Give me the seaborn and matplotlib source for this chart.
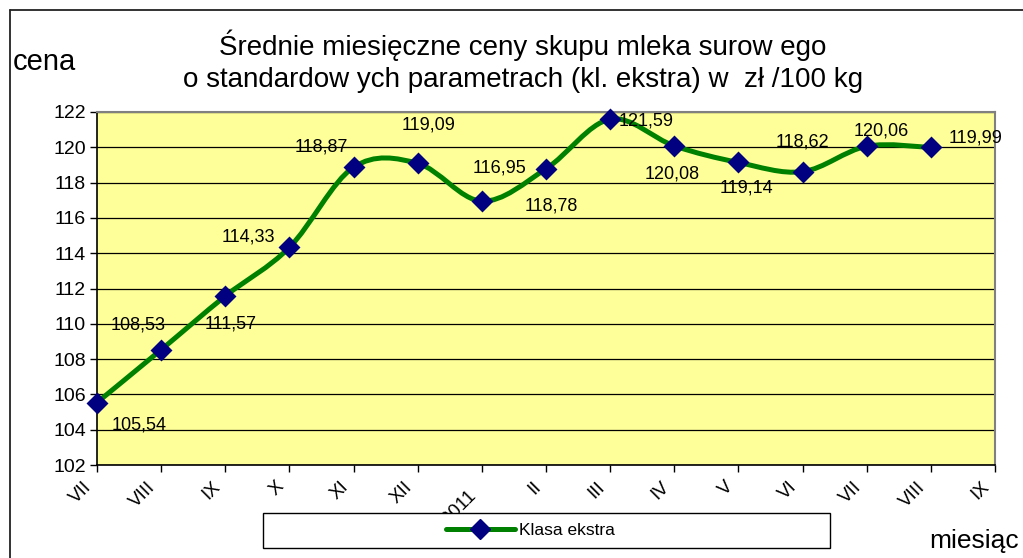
import numpy as np
import pandas as pd
import matplotlib.pyplot as plt
import matplotlib.transforms as mtransforms
from matplotlib.path import Path
from matplotlib.patches import PathPatch, Rectangle
from matplotlib.lines import Line2D
import seaborn as sns

# dane z wykresu
months = ["VII", "VIII", "IX", "X", "XI", "XII", "2011", "II", "III",
          "IV", "V", "VI", "VII", "VIII", "IX"]
prices = [105.54, 108.53, 111.57, 114.33, 118.87, 119.09, 116.95, 118.78,
          121.59, 120.08, 119.14, 118.62, 120.06, 119.99]
series_name = "Klasa ekstra"

# przesuniecia etykiet danych (piksele, jak w Excelu)
label_dx = [42, -23, 5, -41, -32, 11, 18, 5, 36, -2, 8, 0, 15, 45]
label_dy = [-22, 25, -28, 10, 20, 38, 33, -37, -2, -28, -26, 30, 15, 9]

W, H = 1023, 558
sns.set_style("white")
plt.rcParams['font.family'] = ['Liberation Sans', 'DejaVu Sans']
plt.rcParams['text.color'] = 'black'
plt.rcParams['xtick.color'] = 'black'
plt.rcParams['ytick.color'] = 'black'

df = pd.DataFrame({'pos': np.arange(len(prices)), 'cena': prices})

fig = plt.figure(figsize=(W / 100, H / 100), dpi=100)
ax = fig.add_axes([97 / W, 1 - 465 / H, (995 - 97) / W, (465 - 112) / H])
ax.set_facecolor('#FFFF99')

# wygladzona linia (krzywe Beziera przez punkty danych, jak "smoothed line" w Excelu)
x = df['pos'].to_numpy(dtype=float)
y = df['cena'].to_numpy(dtype=float)
pts = np.column_stack([x, y])
ext = np.vstack([pts[:1], pts, pts[-1:]])
verts = [tuple(pts[0])]
codes = [Path.MOVETO]
for i in range(len(pts) - 1):
    p0, p1, p2, p3 = ext[i], ext[i + 1], ext[i + 2], ext[i + 3]
    c1 = p1 + (p2 - p0) / 6
    c2 = p2 - (p3 - p1) / 6
    verts += [tuple(c1), tuple(c2), tuple(p2)]
    codes += [Path.CURVE4] * 3
ax.add_patch(PathPatch(Path(verts, codes), facecolor='none', edgecolor='#008000',
                       lw=3.6, zorder=3, clip_on=False, capstyle='round'))

sns.scatterplot(data=df, x='pos', y='cena', marker='D', s=125, color='#000080',
                edgecolor='#000080', linewidth=0, zorder=4, clip_on=False, ax=ax,
                legend=False)

for i, v in enumerate(prices):
    ax.annotate(f"{v:.2f}".replace('.', ','), (i, v), xytext=(label_dx[i], label_dy[i]),
                textcoords='offset pixels', ha='center', va='center', fontsize=13,
                color='black', zorder=5, annotation_clip=False)

ax.set_xlim(0, len(months) - 1)
ax.set_ylim(102, 122)
ax.set_yticks(np.arange(102, 123, 2))
ax.set_xticks(np.arange(len(months)))
ax.set_xticklabels(months, rotation=45, ha='right', va='center', rotation_mode='anchor',
                   fontsize=13.5)
ax.tick_params(axis='y', labelsize=14, length=5, width=1, pad=3, left=True)
ax.tick_params(axis='x', length=5, width=1, pad=9, bottom=True)
ax.grid(axis='y', color='black', lw=0.9)
ax.set_axisbelow(True)
ax.set_xlabel('')
ax.set_ylabel('')
for s in ['left', 'bottom']:
    ax.spines[s].set_color('black')
    ax.spines[s].set_linewidth(1.2)
for s in ['top', 'right']:
    ax.spines[s].set_color('#808080')
    ax.spines[s].set_linewidth(1.5)

# etykiety osi X lekko w lewo, "2011" lezy nizej w oryginale
for k, lab in enumerate(ax.get_xticklabels()):
    dy = -0.09 if months[k] == "2011" else 0.0
    lab.set_transform(lab.get_transform() +
                      mtransforms.ScaledTranslation(-0.08, dy, fig.dpi_scale_trans))

# ramka wykresu
fig.add_artist(Line2D([10 / W, 1.0], [1 - 10 / H] * 2, transform=fig.transFigure,
                      color='#222222', lw=1.3))
fig.add_artist(Line2D([10 / W] * 2, [0, 1 - 10 / H], transform=fig.transFigure,
                      color='#222222', lw=1.3))

fig.text(523 / W, 1 - 61 / H,
         "Średnie miesięczne ceny skupu mleka surow ego\n"
         "o standardow ych parametrach (kl. ekstra) w  zł /100 kg",
         ha='center', va='center', fontsize=20, linespacing=1.3)
fig.text(13 / W, 1 - 70 / H, "cena", ha='left', va='baseline', fontsize=21)
fig.text(1019 / W, 1 - 548 / H, "miesiąc", ha='right', va='baseline', fontsize=19)

# legenda
fig.add_artist(Rectangle((263 / W, 1 - 548 / H), (830 - 263) / W, 35 / H,
                         transform=fig.transFigure, facecolor='white',
                         edgecolor='black', lw=1))
handle = Line2D([], [], color='#008000', lw=3.6, marker='D', markersize=10.5,
                markerfacecolor='#000080', markeredgecolor='#000080')
fig.legend([handle], [series_name], loc='center', bbox_to_anchor=(530 / W, 1 - 530 / H),
           frameon=False, fontsize=12.5, handlelength=4.0, handletextpad=0.2)

fig.savefig('out.png', dpi=100)
